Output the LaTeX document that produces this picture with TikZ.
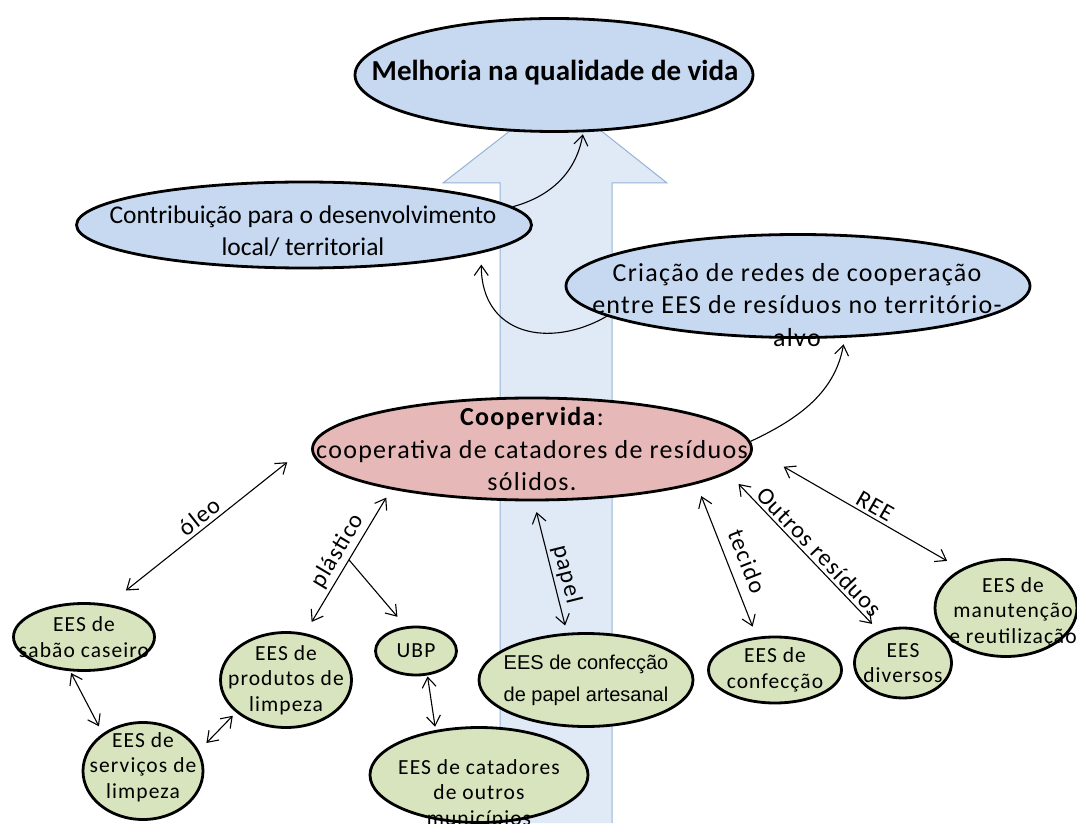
\documentclass[tikz,border=0pt]{standalone}
\usepackage{fontspec}
\setmainfont{Carlito}
\newfontfamily\spaced[LetterSpace=5]{Carlito}
\newfontfamily\arialfont{Liberation Sans}
\usetikzlibrary{shapes.geometric,arrows.meta}
\definecolor{bluefill}{RGB}{198,217,241}
\definecolor{pinkfill}{RGB}{230,185,184}
\definecolor{greenfill}{RGB}{215,228,189}
\definecolor{arrowfill}{RGB}{224,233,246}
\definecolor{arrowline}{RGB}{149,179,215}
\begin{document}
\begin{tikzpicture}[x=1pt,y=1pt,>={Straight Barb[length=10pt,width=14pt]},
  bubble/.style={ellipse,draw,line width=2.8pt,inner sep=0pt},
  bluebubble/.style={bubble,fill=bluefill},
  greenbubble/.style={bubble,fill=greenfill},
  txt/.style={align=center,inner sep=0pt},
  big/.style={txt,font=\spaced\fontsize{26}{32.5}\selectfont},
  small/.style={txt,font=\spaced\fontsize{21.5}{25.5}\selectfont},
  link/.style={line width=1.1pt,<->},
  one/.style={line width=1.1pt,->},
  lbl/.style={font=\spaced\fontsize{24}{28}\selectfont,inner sep=3pt}]
\useasboundingbox (0,0) rectangle (1077,823);
\filldraw[fill=arrowfill,draw=arrowline,line width=1pt] (500,0) -- (500,640) -- (443,640) -- (556,728) -- (667,640) -- (612,640) -- (612,0);

\node[bluebubble,minimum width=398pt,minimum height=113pt] (melhoria) at (554,748) {};
\node[bluebubble,minimum width=455pt,minimum height=86pt] (contrib) at (304,598) {};
\node[bluebubble,minimum width=464pt,minimum height=103pt] (criacao) at (798,537) {};
\node[bubble,fill=pinkfill,minimum width=439pt,minimum height=102pt] (coop) at (532,374) {};
\node[greenbubble,minimum width=141pt,minimum height=67pt] (sabao) at (84,186) {};
\node[greenbubble,minimum width=120pt,minimum height=97pt] (servicos) at (143,52) {};
\node[greenbubble,minimum width=131pt,minimum height=95pt] (produtos) at (286,143) {};
\node[greenbubble,minimum width=81pt,minimum height=48pt] (ubp) at (416,172) {};
\node[greenbubble,minimum width=218pt,minimum height=95pt] (catad) at (479,48) {};
\node[greenbubble,minimum width=214pt,minimum height=93pt] (papelart) at (586,143) {};
\node[greenbubble,minimum width=133pt,minimum height=66pt] (confec) at (775,153) {};
\node[greenbubble,minimum width=97pt,minimum height=70pt] (divers) at (903,160) {};
\node[greenbubble,minimum width=142pt,minimum height=97pt] (manut) at (1006,215) {};

\node[txt,font=\bfseries\fontsize{29}{34}\selectfont] (melhoria-t) at (555,750) {Melhoria na qualidade de vida};
\node[txt,font=\fontsize{25.5}{32}\selectfont] (contrib-t) at (303,592) {Contribuição para o desenvolvimento\\local/ territorial};
\node[big] (criacao-t) at (797,518) {Criação de redes de cooperação\\entre EES de resíduos no território-\\alvo};
\node[big] (coop-t) at (coop) {\textbf{Coopervida}:\\cooperativa de catadores de resíduos\\sólidos.};
\node[small] (sabao-t) at (sabao) {EES de\\sabão caseiro};
\node[small] (servicos-t) at (143,56) {EES de\\serviços de\\limpeza};
\node[small] (produtos-t) at (produtos) {EES de\\produtos de\\limpeza};
\node[small] (ubp-t) at (ubp) {UBP};
\node[small] (catad-t) at (479,29) {EES de catadores\\de outros\\municípios};
\node[txt,font=\arialfont\fontsize{20}{32}\selectfont] (papelart-t) at (papelart) {EES de confecção\\de papel artesanal};
\node[small] (confec-t) at (confec) {EES de\\confecção};
\node[small] (divers-t) at (divers) {EES\\diversos};
\node[small] (manut-t) at (1013,211) {EES de\\manutenção\\e reutilização};

\draw[link,shorten <=22pt,shorten >=33.5pt] (sabao.53) -- (coop.178.8) node[lbl,pos=.48,above,sloped] {óleo};
\draw[link,shorten <=13pt,shorten >=9.6pt] (produtos.68.6) -- (coop.196.2) coordinate[pos=.51] (plas) node[lbl,pos=.52,above,sloped] {plástico};
\draw[one,shorten >=12.6pt] (plas) -- (ubp.113.5);
\draw[link,shorten <=11pt,shorten >=7.5pt] (coop.272.6) -- (papelart.112.7) node[lbl,pos=.58,above,sloped] {papel};
\draw[link,shorten <=13pt,shorten >=11pt] (coop.348.5) -- (confec.119.6) node[lbl,pos=.55,above=7pt,sloped] {tecido};
\draw[link,shorten <=15pt,shorten >=10pt] (coop.353.3) -- (divers.127) node[lbl,pos=.55,above,sloped] {Outros resíduos};
\draw[link,shorten <=35.5pt,shorten >=16pt] (coop.0.5) -- (manut.139.4) node[lbl,pos=.56,above,sloped] {REE};
\draw[link,shorten <=2pt,shorten >=8pt] (sabao.248.3) -- (servicos.137);
\draw[link,shorten <=10.6pt,shorten >=4.6pt] (servicos.20.7) -- (produtos.213.1);
\draw[link,shorten <=1pt,shorten >=3.3pt] (ubp.295.2) -- (catad.134.2);
\draw[one,shorten >=2pt] (contrib.5) to[out=15,in=-100] (melhoria.297);
\draw[one,shorten >=11.5pt] (criacao.189) to[out=-150,in=-90,out looseness=1.2,in looseness=1.5] (contrib.351.5);
\draw[one,shorten >=6.5pt] (coop.2) to[out=25,in=-100] (criacao.312);
\end{tikzpicture}
\end{document}
